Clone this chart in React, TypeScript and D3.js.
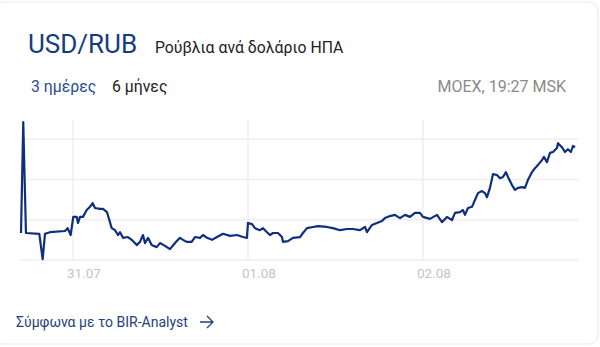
import React from "react";
import * as d3 from "d3";

// hours relative to 31.07 00:00
const hours = [-7.13,-6.82,-6.45,-4.62,-4.16,-3.84,-3.15,-1.10,-0.73,-0.32,0.04,0.51,0.69,0.96,1.37,1.88,2.33,2.70,3.02,3.70,4.11,4.66,5.31,5.76,6.17,6.45,6.86,7.54,8.05,8.74,9.19,9.60,9.87,10.29,10.79,11.48,11.93,12.62,13.30,13.99,14.67,15.09,15.59,16.28,16.73,17.42,17.83,18.38,19.06,19.75,20.57,21.53,22.49,23.31,23.86,24.00,24.55,24.96,25.65,26.06,26.61,27.02,27.43,28.11,28.66,28.80,29.49,30.17,31.13,31.54,32.09,32.91,33.60,34.83,35.66,36.62,37.58,38.40,39.36,40.05,40.32,41.01,41.69,42.38,42.79,43.47,44.16,44.57,44.85,45.53,46.22,46.90,47.59,48.00,48.96,49.92,50.61,51.29,51.98,52.39,53.07,53.49,53.76,54.17,54.72,55.13,55.54,56.09,56.50,56.78,57.19,57.60,58.15,58.56,58.97,59.38,59.66,60.21,60.62,61.03,61.58,61.99,62.40,62.95,63.36,63.77,64.32,64.59,65.00,65.42,65.83,66.38,66.51,67.06,67.47,67.88,68.29,68.57,68.85];
const rates = [90.67,93.42,90.67,90.65,90.02,90.65,90.69,90.72,90.79,90.62,91.07,91.07,90.92,91.07,91.07,91.24,91.32,91.41,91.29,91.27,91.27,91.19,90.79,90.74,90.62,90.69,90.55,90.57,90.50,90.37,90.45,90.62,90.42,90.55,90.37,90.32,90.42,90.35,90.27,90.42,90.55,90.50,90.45,90.45,90.57,90.55,90.62,90.55,90.50,90.57,90.65,90.60,90.62,90.57,90.55,90.92,90.89,90.79,90.74,90.79,90.69,90.62,90.67,90.67,90.57,90.45,90.47,90.55,90.57,90.67,90.79,90.82,90.84,90.82,90.79,90.74,90.77,90.77,90.74,90.82,90.69,90.87,90.92,90.97,91.04,91.09,91.12,91.07,91.04,91.12,91.07,91.17,91.17,91.07,91.02,91.12,90.94,91.07,90.99,91.17,91.19,91.24,91.12,91.29,91.32,91.49,91.66,91.71,91.66,91.56,91.79,92.13,92.11,92.03,92.06,92.18,92.06,91.86,91.74,91.79,91.81,91.79,91.99,92.18,92.28,92.36,92.48,92.56,92.43,92.66,92.68,92.78,92.90,92.80,92.68,92.75,92.68,92.83,92.80];
const yTicks = [90, 91, 92, 93];
const xTickHours = [0, 24, 48];
const xTickLabels = ["31.07", "01.08", "02.08"];

const FONT = "Roboto, 'Noto Sans', sans-serif";
const base = new Date(2023, 6, 31, 0, 0);
const toDate = (h: number) => new Date(base.getTime() + h * 3600 * 1000);

export default function App() {
  const x = d3
    .scaleTime()
    .domain([toDate(-7.13), toDate(68.85)])
    .range([21, 575]);
  const y = d3.scaleLinear().domain([90, 93.45]).range([260, 121]);
  const pts = hours.map((h, i) => [toDate(h), rates[i]] as [Date, number]);
  const line = d3
    .line<[Date, number]>()
    .x((d) => x(d[0]))
    .y((d) => y(d[1]));

  return (
    <svg
      width={600}
      height={347}
      style={{ position: "absolute", left: 0, top: 0 }}
      fontFamily={FONT}
    >
      <rect x={0} y={0} width={600} height={347} fill="#ffffff" />
      <rect
        x={-6}
        y={2}
        width={604}
        height={342}
        rx={9}
        fill="#ffffff"
        stroke="#ececec"
        strokeWidth={1.2}
      />
      <text x={28} y={53} fontSize={26} fill="#163a86">
        USD/RUB
      </text>
      <text x={155} y={53} fontSize={15.8} fill="#222">
        Ρούβλια ανά δολάριο ΗΠΑ
      </text>
      <text x={31} y={92} fontSize={15.8} fill="#2a4c94">
        3 ημέρες
      </text>
      <text x={112} y={92} fontSize={15.8} fill="#222">
        6 μήνες
      </text>
      <text x={566} y={92} fontSize={16} fill="#8a8a8a" textAnchor="end">
        MOEX, 19:27 MSK
      </text>

      {yTicks.map((t) => (
        <line
          key={t}
          x1={20}
          x2={578}
          y1={y(t)}
          y2={y(t)}
          stroke="#efefef"
          strokeWidth={1.5}
        />
      ))}
      {xTickHours.map((h, i) => (
        <g key={h}>
          <line
            x1={x(toDate(h))}
            x2={x(toDate(h))}
            y1={120}
            y2={260}
            stroke="#efefef"
            strokeWidth={1.5}
          />
          <text
            x={x(toDate(h)) - 6}
            y={278}
            fontSize={13.5}
            fill="#c4c4c4"
          >
            {xTickLabels[i]}
          </text>
        </g>
      ))}
      <path
        d={line(pts) || ""}
        fill="none"
        stroke="#0f2e7e"
        strokeWidth={2.2}
        strokeLinejoin="round"
      />

      <text x={16} y={327} fontSize={14} fill="#243f80">
        Σύμφωνα με το BIR-Analyst
      </text>
      <path
        d="M200 322 H213 M207 316 L213 322 L207 328"
        fill="none"
        stroke="#243f80"
        strokeWidth={1.3}
      />
    </svg>
  );
}
